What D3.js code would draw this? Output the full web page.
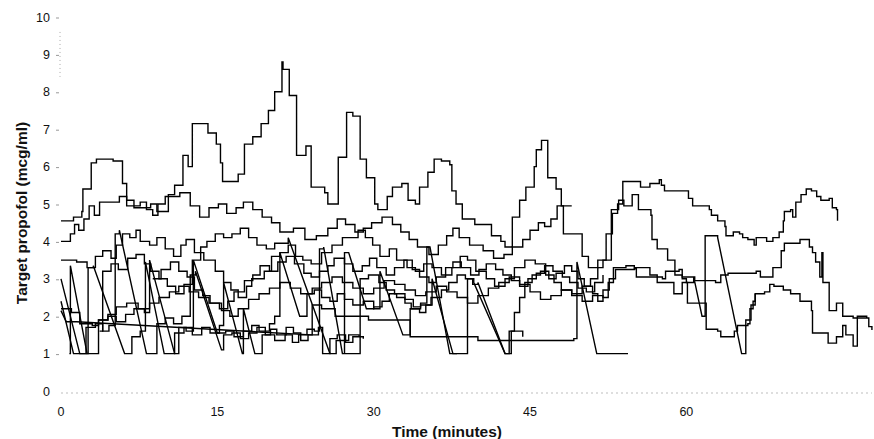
<!DOCTYPE html>
<html>
<head>
<meta charset="utf-8">
<script src="https://cdn.jsdelivr.net/npm/d3@7"></script>
<style>
  html, body { margin: 0; padding: 0; background: #fff; }
  svg { display: block; }
  text { font-family: "Liberation Sans", Arial, sans-serif; fill: #111; }
</style>
</head>
<body>
<svg id="chart" width="874" height="439"></svg>
<script>
// Each series: [minutes, mcg/ml]; a third value 1 means a linear ramp from the previous point,
// otherwise the value holds until that minute and then steps.
const seriesA = [
  [0,4.55],[1.2,4.65],[2.0,4.8],[2.1,5.4],[2.9,6.1],[3.4,6.2],[5.0,6.15],[5.9,5.55],[6.3,5.1],[7.0,4.9],
  [8.6,5.0],[9.2,4.8],[10.3,5.25],[10.9,5.5],[11.7,6.3],[12.2,6.0],[12.6,7.15],[14.1,6.9],[14.9,6.6],[15.3,6.1],
  [15.5,5.6],[17.0,5.8],[17.6,6.6],[18.4,6.8],[19.2,7.15],[19.9,7.5],[20.5,8.0],[21.2,8.8],[21.3,8.6],[21.9,7.9],
  [22.6,6.3],[23.5,6.55],[24.0,5.45],[25.3,5.3],[25.6,5.0],[26.6,6.25],[27.4,7.45],[28.0,7.35],[28.7,6.2],[29.3,5.7],
  [30.1,5.0],[30.4,4.85],[31.3,5.2],[31.8,5.45],[32.7,5.55],[33.3,5.1],[34.0,5.0],[34.4,5.45],[35.2,5.85],[35.8,6.2],
  [36.5,6.15],[37.3,6.05],[37.5,5.35],[37.9,5.0],[38.5,4.6],[39.7,4.45],[41.3,4.15],[42.2,4.0],[42.6,3.85],[43.3,4.65],
  [44.0,5.1],[44.6,5.45],[45.4,6.0],[45.6,6.45],[46.1,6.7],[46.7,5.7],[47.5,5.4],[48.0,4.95],[48.2,4.2],[50.0,3.6],
  [50.6,3.3],[51.5,3.5],[52.3,4.2],[52.9,4.75],[53.4,5.0],[53.9,5.6],[55.6,5.45],[56.5,5.55],[57.4,5.65],[57.6,5.5],
  [57.9,5.35],[60.2,5.15],[60.6,4.95],[62.2,4.85],[62.4,4.7],[63.0,4.55],[63.7,4.4],[63.8,4.15],[64.5,4.25],[65.1,4.2],
  [65.4,4.1],[65.9,4.05],[66.5,3.9],[66.7,4.1],[67.7,4.0],[68.3,4.1],[68.9,4.25],[69.3,4.55],[69.4,4.8],[70.0,4.85],
  [70.2,4.65],[70.5,5.05],[71.0,5.25],[71.5,5.4],[72.0,5.35],[72.5,5.2],[72.9,5.1],[73.7,5.15],[74.0,4.9],[74.4,4.85],
  [74.5,4.55]
];
const seriesB = [
  [0,4.0],[0.9,4.2],[1.3,4.45],[1.7,4.3],[2.2,4.6],[2.7,4.95],[3.2,4.7],[3.7,5.05],[5.6,5.2],[6.3,4.95],
  [7.6,5.05],[8.2,4.85],[8.8,4.7],[9.3,5.0],[10.0,5.2],[11.4,5.3],[12.4,4.95],[13.3,4.65],[14.2,4.9],[15.1,5.0],
  [15.9,4.75],[16.8,4.9],[17.5,5.05],[18.4,4.85],[19.3,4.65],[20.2,4.5],[21.0,4.25],[22.3,4.35],[23.4,4.05],[24.5,4.15],
  [25.6,4.35],[26.5,4.6],[27.3,4.45],[28.2,4.25],[29.0,4.35],[29.8,4.5],[30.8,4.65],[31.8,4.45],[32.6,4.25],[33.4,4.05],
  [34.2,3.85],[35.3,3.65],[36.2,3.9],[37.0,4.15],[37.6,4.35],[38.2,4.1],[39.2,3.9],[40.5,3.75],[41.5,3.55],[42.5,3.65],
  [43.3,3.85],[44.3,4.05],[45.0,4.3],[45.8,4.5],[46.4,4.4],[47.0,4.6],[47.6,4.95],[49.0,4.95]
];
const seriesC = [
  [0,3.5],[1.5,3.45],[2.5,3.3],[3.3,3.6],[4.0,3.75],[4.8,3.55],[5.3,3.9],[5.9,4.2],[6.6,4.1],[7.2,4.3],
  [7.6,4.0],[8.5,3.9],[9.2,4.1],[10.0,3.8],[10.8,3.6],[11.5,3.9],[12.0,4.05],[12.8,3.7],[13.7,3.5],[14.8,3.2],
  [15.6,2.9],[16.3,2.7],[17.0,2.5],[17.8,2.8],[18.3,3.0],[19.5,3.2],[20.2,3.6],[21.0,3.7],[21.8,3.9],[22.5,3.6],
  [23.2,3.5],[24.0,3.4],[25.0,3.7],[26.0,3.9],[27.0,4.1],[28.5,4.3],[29.2,4.1],[29.9,3.9],[30.6,3.6],[31.5,3.8],
  [32.2,3.5],[33.2,3.3],[34.0,3.2],[34.8,3.4],[35.6,3.3],[36.5,3.1],[37.5,3.3],[38.3,3.6],[39.0,3.5],[39.8,3.2],
  [40.8,3.0],[41.6,2.8],[42.6,3.0],[43.5,3.3],[44.5,3.5],[45.5,3.4],[46.5,3.1],[47.3,2.9],[48.0,2.7],[49.0,2.6],
  [50.0,2.8],[50.8,3.0],[51.5,3.3],[52.0,3.5],[52.8,4.85],[53.5,5.1],[54.0,4.95],[54.8,5.25],[55.4,4.85],[56.6,4.7],
  [56.7,4.05],[57.2,3.8],[58.2,3.5],[58.9,3.1],[59.6,3.0],[60.0,2.9],[60.1,2.35],[61.6,2.35],[61.9,1.65],[63.0,1.6],
  [63.3,1.45],[64.2,1.45],[64.6,1.6],[64.9,1.75],[65.9,1.8],[66.1,2.2],[66.4,2.4],[66.6,2.6]
];
const seriesE = [
  [0,2.15],[0.5,1.85,1],[1.5,1.85],[24.0,1.5,1],[24.1,2.3],[25.0,2.2],[26.3,2.0],[29.5,1.9],[33.5,1.45],[40.0,1.35],
  [49.2,1.4],[49.5,3.45],[51.4,1.0,1],[54.4,1.0]
];
const seriesF = [
  [0,3.0],[1.8,1.0,1],[2.6,1.0],[2.6,3.3],[3.1,3.35],[6.1,1.0,1],[6.8,1.0],[6.8,1.45],[7.6,1.6],[8.1,3.45],
  [9.9,1.0,1],[10.9,1.0],[10.9,1.55],[11.8,1.7],[12.6,1.5],[13.5,1.7],[14.3,1.55],[15.2,1.75],[15.6,2.9],[17.4,1.0,1],
  [17.5,2.2],[18.6,1.0,1],[19.3,1.0],[19.3,1.5],[20.1,1.65],[20.7,1.5],[21.6,1.7],[22.3,1.55],[23.0,1.35],[23.7,1.5],
  [24.7,1.7],[25.1,1.0],[25.8,1.0],[25.8,1.4],[26.5,1.5],[27.3,1.3],[28.0,1.45],[29.0,1.4]
];
const seriesG = [
  [0,2.2],[1.0,2.1],[1.8,1.8],[3.0,1.75],[3.6,1.9],[4.5,2.05],[5.3,2.25],[6.3,2.35],[7.4,2.2],[8.5,2.35],
  [9.4,2.5],[10.4,2.65],[11.3,2.8],[12.3,2.65],[13.2,2.5],[14.2,2.35],[15.4,2.15],[16.2,2.0],[17.0,2.2],[18.0,2.45],
  [19.0,2.6],[20.0,2.75],[21.0,2.9],[22.0,2.75],[23.0,2.6],[24.1,2.75],[25.0,2.9],[26.0,3.05],[27.0,2.9],[28.0,2.75],
  [29.0,2.6],[30.0,2.75],[31.0,2.95],[32.0,2.85],[33.0,2.7],[34.0,2.55],[35.0,2.65],[36.0,2.8],[37.0,2.65],[38.0,2.5],
  [39.0,2.35],[40.0,2.55],[41.0,2.75],[42.0,2.9],[43.0,3.05],[44.0,2.85],[45.0,2.65],[46.0,2.45],[47.0,2.55],[48.0,2.7],
  [49.0,2.55],[50.0,2.4],[51.0,2.55],[52.0,2.5],[52.5,2.9],[53.0,3.3],[54.2,3.35],[55.0,3.3],[56.5,3.1],[57.2,2.9],
  [58.8,2.6],[59.6,2.9],[60.7,3.05],[61.5,2.0,1],[61.8,2.0],[61.8,4.15],[63.0,4.1],[65.3,1.0,1],[65.7,1.0],[65.7,1.9],
  [66.2,2.3],[66.6,2.6],[67.5,2.65],[68.0,2.85],[68.4,2.8],[69.3,2.7],[70.0,2.6],[70.9,2.4],[72.0,2.15],[72.1,1.55],
  [73.6,1.28],[74.4,1.45],[75.0,1.75],[75.3,1.5],[76.0,1.2],[76.4,2.0],[77.3,1.95]
];
const seriesJ = [
  [0,2.4],[1.2,1.0,1],[2.4,1.0],[2.4,1.7],[3.3,1.8],[4.0,1.6],[4.6,1.75],[5.2,4.2],[5.6,4.3],[8.2,1.0,1],
  [9.2,1.0],[9.2,1.8],[10.0,1.95],[10.8,1.8],[11.6,2.0],[12.4,3.1],[12.9,3.2],[15.4,1.1,1],[15.6,1.5],[16.4,1.55],
  [17.2,1.4],[18.0,1.55],[18.8,1.7],[19.6,1.5],[20.5,1.35],[21.5,1.5],[22.2,1.3],[22.8,1.5],[23.6,1.65],[24.3,1.6],
  [24.8,3.8],[25.2,3.85],[27.0,1.0,1],[28.7,1.0],[28.7,3.0],[29.5,3.1],[30.5,2.9],[31.2,2.7],[32.0,2.6],[33.0,2.45],
  [33.8,2.25],[34.5,2.35],[35.1,3.85],[35.4,3.85],[37.3,1.0,1],[39.0,1.0],[39.0,3.0],[39.6,2.9],[42.6,1.0,1],[43.0,1.0],
  [43.2,1.6],[44.3,1.45]
];
const seriesM = [
  [27.2,1.0],[27.2,3.7],[27.6,3.7],[29.3,2.2,1],[30.0,2.25],[30.8,2.4],[31.5,2.6],[32.2,2.5],[33.0,2.35],[33.6,2.2],
  [34.5,2.3],[35.5,2.5],[36.5,2.7],[37.2,2.9],[38.0,3.1],[38.8,3.0],[39.5,2.85],[40.0,2.9],[42.6,1.0,1],[42.9,1.0],
  [43.0,1.6],[43.5,2.1],[44.0,2.5],[44.5,2.9],[45.2,3.1],[46.0,3.2],[46.8,3.0],[47.5,3.15],[48.3,3.35],[49.0,3.2],
  [49.6,3.0],[50.2,2.8],[51.0,2.6],[51.5,2.4],[52.0,2.7],[52.6,3.0],[53.2,3.25],[55.0,3.27],[55.2,3.05],[57.7,3.0],
  [58.0,3.2],[59.3,3.25],[59.6,3.05],[60.8,2.95],[62.8,2.9],[63.3,3.1],[64.0,3.15],[66.7,3.2],[67.1,3.05],[68.0,3.05],
  [68.3,3.3],[69.1,3.75],[69.4,3.95],[70.9,4.05],[71.8,3.85],[72.1,3.7],[72.4,3.45],[72.8,3.05],[73.0,3.7],[73.1,2.9],
  [73.7,2.15],[74.4,2.35],[75.0,2.0],[76.0,1.95],[77.1,1.95],[77.5,1.72],[77.8,1.63]
];
const seriesP = [
  [0.8,1.0],[0.9,3.35],[2.5,1.0,1],[3.6,1.0],[3.6,1.9],[4.5,2.0],[5.3,1.85],[6.2,2.05],[7.0,2.2],[8.0,2.1],
  [8.5,3.5],[10.9,1.0,1],[11.3,1.0],[11.3,1.7],[12.0,1.6],[12.7,3.5],[15.0,1.55,1],[15.8,1.6],[16.6,1.45],[17.5,1.6],
  [18.3,1.75],[19.0,1.6],[20.0,1.8],[20.5,2.0],[21.0,3.7],[22.9,2.0,1],[23.5,2.0],[23.6,2.6],[24.3,2.7],[25.0,2.5],
  [25.8,2.4],[26.5,2.6],[27.2,2.45],[28.0,2.3],[29.0,2.4],[30.0,2.2],[30.6,3.2],[32.8,1.5,1],[33.4,1.5],[33.5,2.2],
  [34.4,2.1],[35.0,2.3],[35.6,3.0],[37.6,1.0,1],[38.0,1.0]
];
const seriesQ = [
  [3.7,1.6],[4.0,3.2],[4.8,3.4],[5.5,3.25],[6.4,3.55],[7.2,3.65],[8.0,3.4],[8.6,3.2],[9.4,3.0],[10.2,2.8],
  [11.0,2.6],[11.8,2.85],[12.6,3.5],[13.4,3.85],[14.0,4.0],[14.8,4.2],[15.6,4.1],[16.4,4.2],[17.2,4.35],[18.0,4.1],
  [18.8,3.9],[19.7,3.8],[20.5,3.95],[21.8,4.1],[25.8,1.0,1],[26.4,1.0],[26.4,1.35],[27.6,1.5],[28.6,1.45]
];
const seriesR = [
  [8.8,3.0],[9.6,3.25],[10.5,3.45],[11.3,3.2],[12.1,3.05],[12.8,2.7],[13.6,2.55],[14.3,2.35],[15.2,2.2],[16.0,2.4],
  [16.6,2.65],[17.6,2.95],[18.4,3.1],[19.1,3.35],[20.0,3.2],[20.8,3.45],[21.6,3.6],[22.4,3.4],[23.3,3.15],[24.0,3.05],
  [24.8,3.2],[25.6,3.35],[26.2,3.55],[27.2,3.4],[28.0,3.2],[28.9,3.35],[29.6,3.55],[30.3,3.3],[31.2,3.1],[32.0,3.3],
  [32.9,3.5],[33.7,3.25],[34.4,3.05],[35.3,2.9],[36.0,3.05],[36.9,3.3],[37.6,3.45],[38.4,3.3],[39.3,3.1],[40.1,3.25],
  [40.8,3.4],[41.7,3.25],[42.4,3.1],[43.2,2.95],[44.0,2.8],[44.8,3.0],[45.6,3.15],[46.4,3.35],[47.2,3.2],[48.1,3.05],
  [48.8,2.9],[49.6,2.75],[50.4,2.65],[51.2,2.9],[52.0,3.1]
];

const allSeries = [seriesA, seriesB, seriesC, seriesE, seriesF, seriesG, seriesJ, seriesM, seriesP, seriesQ, seriesR];
const yTicks = [0, 1, 2, 3, 4, 5, 6, 7, 8, 9, 10];
const xTicks = [0, 15, 30, 45, 60];

const svg = d3.select("#chart");

const x = d3.scaleLinear().domain([0, 78]).range([61, 874]);
const y = d3.scaleLinear().domain([0, 10]).range([391, 17]);

// faint scanned-looking axes
svg.append("line")
  .attr("x1", x(0)).attr("x2", x(77.8))
  .attr("y1", y(0) + 2).attr("y2", y(0) + 2)
  .attr("stroke", "#bdbdbd").attr("stroke-width", 1)
  .attr("stroke-dasharray", "2,3");

svg.append("line")
  .attr("x1", 60).attr("x2", 60)
  .attr("y1", y(9.6)).attr("y2", y(8.4))
  .attr("stroke", "#aaa").attr("stroke-width", 1)
  .attr("stroke-dasharray", "1,3");

const yAxis = svg.append("g");
yAxis.selectAll("text")
  .data(yTicks)
  .join("text")
  .attr("x", 50)
  .attr("y", d => y(d) + 4.5)
  .attr("text-anchor", "end")
  .attr("font-size", 12.5)
  .text(d => d);

yAxis.selectAll("line")
  .data(yTicks.filter(d => d > 0))
  .join("line")
  .attr("x1", 56).attr("x2", 59)
  .attr("y1", d => y(d) + 1).attr("y2", d => y(d) + 1)
  .attr("stroke", "#999").attr("stroke-width", 1);

svg.append("g").selectAll("text")
  .data(xTicks)
  .join("text")
  .attr("x", d => x(d))
  .attr("y", 416)
  .attr("text-anchor", "middle")
  .attr("font-size", 12.5)
  .text(d => d);

// step lines
const line = d3.line().x(p => x(p[0])).y(p => y(p[1]));

function toPoints(s) {
  const pts = [];
  s.forEach((d, i) => {
    if (i === 0) { pts.push([d[0], d[1]]); return; }
    const prev = pts[pts.length - 1];
    if (d[2]) {
      pts.push([d[0], d[1]]);
    } else {
      pts.push([d[0], prev[1]]);
      pts.push([d[0], d[1]]);
    }
  });
  return pts;
}

svg.append("g").selectAll("path")
  .data(allSeries)
  .join("path")
  .attr("d", s => line(toPoints(s)))
  .attr("fill", "none")
  .attr("stroke", "#000")
  .attr("stroke-width", 1.4)
  .attr("stroke-linejoin", "miter");

// titles
svg.append("text")
  .attr("x", 447)
  .attr("y", 437)
  .attr("text-anchor", "middle")
  .attr("font-size", 15.5)
  .attr("font-weight", "bold")
  .text("Time (minutes)");

svg.append("text")
  .attr("transform", "translate(27,213) rotate(-90)")
  .attr("text-anchor", "middle")
  .attr("font-size", 15.5)
  .attr("font-weight", "bold")
  .text("Target propofol (mcg/ml)");
</script>
</body>
</html>
